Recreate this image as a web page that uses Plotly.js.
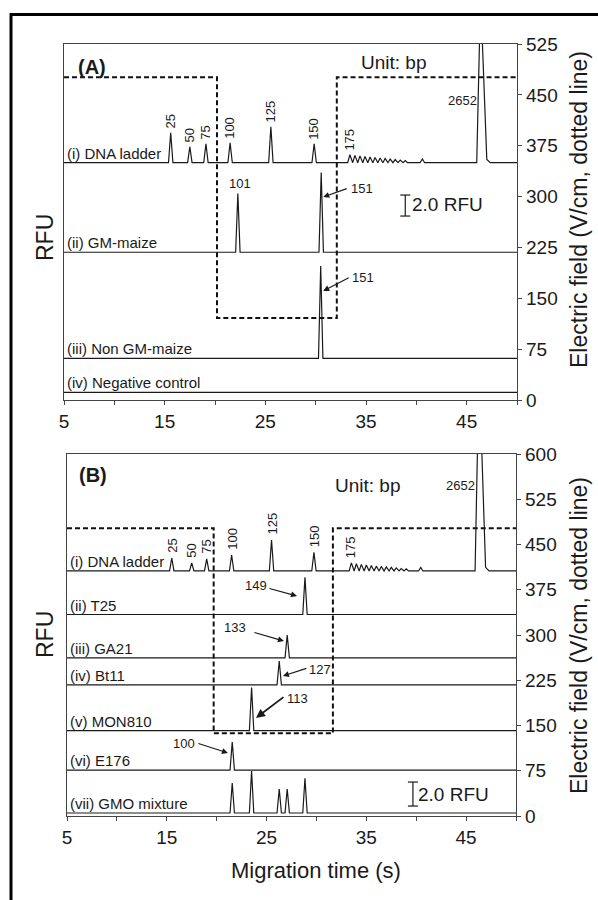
<!DOCTYPE html>
<html><head><meta charset="utf-8">
<script src="https://cdn.plot.ly/plotly-3.0.1.min.js"></script>
<style>html,body{margin:0;padding:0;background:#fff;}#chart{width:598px;height:900px;}</style>
</head><body><div id="chart"></div>
<script>
// ================= DATA =================
const timeRange = [5, 50];
const xTickVals = [5, 10, 15, 20, 25, 30, 35, 40, 45, 50];
const xTickText = ['5', '', '15', '', '25', '', '35', '', '45', ''];
const fieldTicksA = [0, 75, 150, 225, 300, 375, 450, 525];
const fieldTicksB = [0, 75, 150, 225, 300, 375, 450, 525, 600];
const scaleBarRFU = 2.0;

// ---- Panel A ----
const laneNamesA = ['(i) DNA ladder', '(ii) GM-maize', '(iii) Non GM-maize', '(iv) Negative control'];
const laneOffsetA = [22.6, 14.07, 3.97, 0.73];            // RFU stacking offsets
const ladderTimesA = [15.6, 17.5, 19.1, 21.5, 25.55, 29.85, 33.4, 33.9, 34.4, 34.9, 35.4, 35.9, 36.4, 36.9, 37.4, 37.9, 38.4, 38.9, 40.6];
const ladderHeightsA = [2.86, 1.52, 1.81, 1.9, 3.43, 1.81, 0.76, 0.7, 0.65, 0.6, 0.55, 0.5, 0.45, 0.4, 0.35, 0.3, 0.25, 0.2, 0.35];
const ladderSizeLabels = ['25', '50', '75', '100', '125', '150', '175'];
const markerTimesA = [46.0, 46.38, 47.0, 47.35];          // 2652 bp marker
const markerHeightsA = [0, 16, 0.3, 0];
const gmTimes = [22.27, 30.55];
const gmHeights = [5.6, 7.6];
const nonGmTimes = [30.5];
const nonGmHeights = [8.8];
const negTimes = [];
const negHeights = [];
const fieldTimeA = [5, 20.2, 20.2, 32.1, 32.1, 50];
const fieldA = [476, 476, 121, 121, 476, 476];

// ---- Panel B ----
const laneNamesB = ['(i) DNA ladder', '(ii) T25', '(iii) GA21', '(iv) Bt11', '(v) MON810', '(vi) E176', '(vii) GMO mixture'];
const laneOffsetB = [20.42, 16.79, 13.17, 10.92, 7.11, 3.83, 0.25];
const ladderTimesB = [15.5, 17.5, 19.0, 21.5, 25.5, 29.75, 33.5, 34.0, 34.5, 35.0, 35.5, 36.0, 36.5, 37.0, 37.5, 38.0, 38.5, 39.0, 40.45];
const ladderHeightsB = [1.08, 0.67, 1.0, 1.33, 2.58, 1.55, 0.67, 0.6, 0.55, 0.5, 0.45, 0.4, 0.38, 0.33, 0.3, 0.25, 0.2, 0.18, 0.3];
const markerTimesB = [45.9, 46.3, 46.95, 47.3];
const markerHeightsB = [0, 17, 0.3, 0];
const t25Times = [28.85];   const t25Heights = [3.1];
const ga21Times = [27.07];  const ga21Heights = [1.9];
const bt11Times = [26.27];  const bt11Heights = [2.0];
const mon810Times = [23.5]; const mon810Heights = [3.6];
const e176Times = [21.56];  const e176Heights = [2.33];
const mixTimes = [21.56, 23.5, 26.27, 27.07, 28.85];
const mixHeights = [2.5, 3.5, 2.0, 2.0, 2.9];
const fieldTimeB = [5, 19.7, 19.7, 31.65, 31.65, 50];
const fieldB = [477, 477, 137, 137, 477, 477];

// ================= BUILD =================
const FONT = 'Liberation Sans, Arial, sans-serif';
const INK = '#1a1a1a';
const AX = '#444';
const HW = 0.22; // peak half-width (s)

function lane(times, heights, offset, extraT, extraH) {
  const x = [timeRange[0]], y = [offset];
  times.forEach((t, i) => { x.push(t - HW, t, t + HW); y.push(offset, offset + heights[i], offset); });
  if (extraT) extraT.forEach((t, i) => { x.push(t); y.push(offset + extraH[i]); });
  x.push(timeRange[1]); y.push(offset);
  return x.map((v, i) => [v, y[i]]);
}
function trace(pts, xa, ya) {
  return { type: 'scatter', mode: 'lines', x: pts.map(p => p[0]), y: pts.map(p => p[1]),
    xaxis: xa, yaxis: ya, line: { color: INK, width: 1.2 }, hoverinfo: 'skip', showlegend: false };
}

const traces = [];
const lanesA = [
  lane(ladderTimesA, ladderHeightsA, laneOffsetA[0], markerTimesA, markerHeightsA),
  lane(gmTimes, gmHeights, laneOffsetA[1]),
  lane(nonGmTimes, nonGmHeights, laneOffsetA[2]),
  lane(negTimes, negHeights, laneOffsetA[3])
];
lanesA.forEach(p => traces.push(trace(p, 'x', 'y')));
traces.push({ type: 'scatter', mode: 'lines', x: fieldTimeA, y: fieldA, xaxis: 'x', yaxis: 'y2',
  line: { color: '#111', width: 2, dash: '5px,3px' }, hoverinfo: 'skip', showlegend: false });

const lanesB = [
  lane(ladderTimesB, ladderHeightsB, laneOffsetB[0], markerTimesB, markerHeightsB),
  lane(t25Times, t25Heights, laneOffsetB[1]),
  lane(ga21Times, ga21Heights, laneOffsetB[2]),
  lane(bt11Times, bt11Heights, laneOffsetB[3]),
  lane(mon810Times, mon810Heights, laneOffsetB[4]),
  lane(e176Times, e176Heights, laneOffsetB[5]),
  lane(mixTimes, mixHeights, laneOffsetB[6])
];
lanesB.forEach(p => traces.push(trace(p, 'x2', 'y3')));
traces.push({ type: 'scatter', mode: 'lines', x: fieldTimeB, y: fieldB, xaxis: 'x2', yaxis: 'y4',
  line: { color: '#111', width: 2, dash: '5px,3px' }, hoverinfo: 'skip', showlegend: false });

// ---------- annotations ----------
const ann = [];
const txt = (o) => Object.assign({ showarrow: false, font: { family: FONT, size: 15, color: INK } }, o);

laneNamesA.forEach((n, i) => ann.push(txt({ xref: 'x', yref: 'y', x: 5.1, y: laneOffsetA[i], xanchor: 'left', yanchor: 'bottom', text: n, yshift: -1 })));
laneNamesB.forEach((n, i) => ann.push(txt({ xref: 'x2', yref: 'y3', x: 5.1, y: laneOffsetB[i], xanchor: 'left', yanchor: 'bottom', text: n, yshift: -1 })));

ladderSizeLabels.forEach((s, i) => {
  ann.push(txt({ xref: 'x', yref: 'y', x: ladderTimesA[i], y: laneOffsetA[0] + ladderHeightsA[i], text: s, textangle: -90,
    xanchor: 'center', yanchor: 'bottom', yshift: 2, font: { family: FONT, size: 13, color: INK } }));
  ann.push(txt({ xref: 'x2', yref: 'y3', x: ladderTimesB[i], y: laneOffsetB[0] + ladderHeightsB[i], text: s, textangle: -90,
    xanchor: 'center', yanchor: 'bottom', yshift: 3, font: { family: FONT, size: 13, color: INK } }));
});

// 101 label on top of peak
ann.push(txt({ xref: 'x', yref: 'y', x: gmTimes[0], y: laneOffsetA[1] + gmHeights[0], text: '101', xanchor: 'center', yanchor: 'bottom', xshift: 2, font: { family: FONT, size: 13, color: INK } }));

// arrows with size labels
function arrow(xa, ya, x, y, ax, ay, w) {
  ann.push({ xref: xa, yref: ya, x: x, y: y, ax: ax, ay: ay, axref: 'pixel', ayref: 'pixel', text: '', showarrow: true,
    arrowhead: 2, arrowsize: 1, arrowwidth: w || 1.2, arrowcolor: INK, standoff: 0, startstandoff: 0 });
}
function label(xa, ya, x, y, t) {
  ann.push(txt({ xref: xa, yref: ya, x: x, y: y, text: t, xanchor: 'center', yanchor: 'middle', font: { family: FONT, size: 13, color: INK } }));
}
arrow('x', 'y', 30.75, 19.33, 25, -9);  label('x', 'y', 34.62, 20.19, '151');
arrow('x', 'y', 30.75, 10.38, 27, -14); label('x', 'y', 34.72, 11.71, '151');

arrow('x2', 'y3', 28.05, 18.33, -29, -8);  label('x2', 'y3', 23.94, 19.25, '149');
arrow('x2', 'y3', 26.74, 14.58, -31, -9);  label('x2', 'y3', 21.83, 15.67, '133');
arrow('x2', 'y3', 26.64, 11.67, 25, -8);   label('x2', 'y3', 30.35, 12.25, '127');
arrow('x2', 'y3', 23.94, 8.17, 29, -22, 1.8); label('x2', 'y3', 28.15, 9.83, '113');
arrow('x2', 'y3', 21.13, 5.25, -31, -10);  label('x2', 'y3', 16.72, 6.08, '100');

// 2652 marker labels
ann.push(txt({ xref: 'paper', yref: 'paper', x: 462 / 598, y: 1 - 100 / 900, text: '2652', xanchor: 'center', yanchor: 'middle', font: { family: FONT, size: 13, color: INK } }));
ann.push(txt({ xref: 'paper', yref: 'paper', x: 460 / 598, y: 1 - 485 / 900, text: '2652', xanchor: 'center', yanchor: 'middle', font: { family: FONT, size: 13, color: INK } }));

// panel labels & units
ann.push(txt({ xref: 'paper', yref: 'paper', x: 92 / 598, y: 1 - 67 / 900, text: '<b>(A)</b>', xanchor: 'center', yanchor: 'middle', font: { family: FONT, size: 20, color: INK } }));
ann.push(txt({ xref: 'paper', yref: 'paper', x: 93 / 598, y: 1 - 475 / 900, text: '<b>(B)</b>', xanchor: 'center', yanchor: 'middle', font: { family: FONT, size: 20, color: INK } }));
ann.push(txt({ xref: 'paper', yref: 'paper', x: 393 / 598, y: 1 - 62 / 900, text: 'Unit: bp', xanchor: 'center', yanchor: 'middle', font: { family: FONT, size: 19, color: INK } }));
ann.push(txt({ xref: 'paper', yref: 'paper', x: 367 / 598, y: 1 - 485 / 900, text: 'Unit: bp', xanchor: 'center', yanchor: 'middle', font: { family: FONT, size: 19, color: INK } }));
ann.push(txt({ xref: 'paper', yref: 'paper', x: 410 / 598, y: 1 - 204 / 900, text: scaleBarRFU.toFixed(1) + ' RFU', xanchor: 'left', yanchor: 'middle', font: { family: FONT, size: 19, color: INK } }));
ann.push(txt({ xref: 'paper', yref: 'paper', x: 416 / 598, y: 1 - 794 / 900, text: scaleBarRFU.toFixed(1) + ' RFU', xanchor: 'left', yanchor: 'middle', font: { family: FONT, size: 19, color: INK } }));

// axis titles
ann.push(txt({ xref: 'paper', yref: 'paper', x: 45 / 598, y: 1 - 238 / 900, text: 'RFU', textangle: -90, xanchor: 'center', yanchor: 'middle', font: { family: FONT, size: 23, color: INK } }));
ann.push(txt({ xref: 'paper', yref: 'paper', x: 45 / 598, y: 1 - 635 / 900, text: 'RFU', textangle: -90, xanchor: 'center', yanchor: 'middle', font: { family: FONT, size: 23, color: INK } }));
ann.push(txt({ xref: 'paper', yref: 'paper', x: 579 / 598, y: 1 - 210 / 900, text: 'Electric field (V/cm, dotted line)', textangle: -90, xanchor: 'center', yanchor: 'middle', font: { family: FONT, size: 23, color: INK } }));
ann.push(txt({ xref: 'paper', yref: 'paper', x: 579 / 598, y: 1 - 636 / 900, text: 'Electric field (V/cm, dotted line)', textangle: -90, xanchor: 'center', yanchor: 'middle', font: { family: FONT, size: 23, color: INK } }));
ann.push(txt({ xref: 'paper', yref: 'paper', x: 316 / 598, y: 1 - 870 / 900, text: 'Migration time (s)', xanchor: 'center', yanchor: 'middle', font: { family: FONT, size: 22, color: INK } }));

// ---------- shapes ----------
const shapes = [
  { type: 'rect', xref: 'paper', yref: 'paper', x0: 11 / 598, x1: 1.2, y0: -0.2, y1: 1 - 14.5 / 900, line: { color: '#000', width: 3 }, fillcolor: 'rgba(0,0,0,0)' }
];
function scaleBar(xa, ya, t, base) {
  shapes.push({ type: 'line', xref: xa, yref: ya, x0: t, x1: t, y0: base, y1: base + scaleBarRFU, line: { color: INK, width: 1.2 } });
  shapes.push({ type: 'line', xref: xa, yref: ya, x0: t - 0.5, x1: t + 0.5, y0: base, y1: base, line: { color: INK, width: 1.2 } });
  shapes.push({ type: 'line', xref: xa, yref: ya, x0: t - 0.5, x1: t + 0.5, y0: base + scaleBarRFU, y1: base + scaleBarRFU, line: { color: INK, width: 1.2 } });
}
scaleBar('x', 'y', 38.9, 17.52);
scaleBar('x2', 'y3', 39.67, 0.83);

// ---------- axes ----------
const tf = { family: FONT, size: 19, color: INK };
function xAx(domain, anchor) {
  return { domain: domain, anchor: anchor, range: timeRange, tickvals: xTickVals, ticktext: xTickText, ticks: 'outside', ticklen: 4,
    tickcolor: AX, showline: true, linecolor: AX, linewidth: 1.2, mirror: true, showgrid: false, zeroline: false, tickfont: tf, fixedrange: true };
}
function yLeft(domain, anchor, top) {
  return { domain: domain, anchor: anchor, range: [0, top], showticklabels: false, ticks: '', showline: true, linecolor: AX, linewidth: 1.2,
    showgrid: false, zeroline: false, fixedrange: true };
}
function yRight(over, anchor, top, vals) {
  return { overlaying: over, anchor: anchor, side: 'right', range: [0, top], tickvals: vals, ticks: 'outside', ticklen: 4, tickcolor: AX,
    showline: true, linecolor: AX, linewidth: 1.2, showgrid: false, zeroline: false, tickfont: tf, fixedrange: true };
}

const layout = {
  width: 598, height: 900, margin: { l: 0, r: 0, t: 0, b: 0 }, paper_bgcolor: '#fff', plot_bgcolor: 'rgba(0,0,0,0)',
  font: { family: FONT, color: INK }, showlegend: false,
  xaxis: xAx([64 / 598, 517 / 598], 'y'),
  yaxis: yLeft([1 - 400 / 900, 1 - 44 / 900], 'x', 356 / 10.5),
  yaxis2: yRight('y', 'x', 525, fieldTicksA),
  xaxis2: xAx([67 / 598, 516 / 598], 'y3'),
  yaxis3: yLeft([1 - 816 / 900, 1 - 454 / 900], 'x2', 362 / 12),
  yaxis4: yRight('y3', 'x2', 600, fieldTicksB),
  annotations: ann, shapes: shapes
};

Plotly.newPlot('chart', traces, layout, { displayModeBar: false, staticPlot: true });
</script>
</body></html>
